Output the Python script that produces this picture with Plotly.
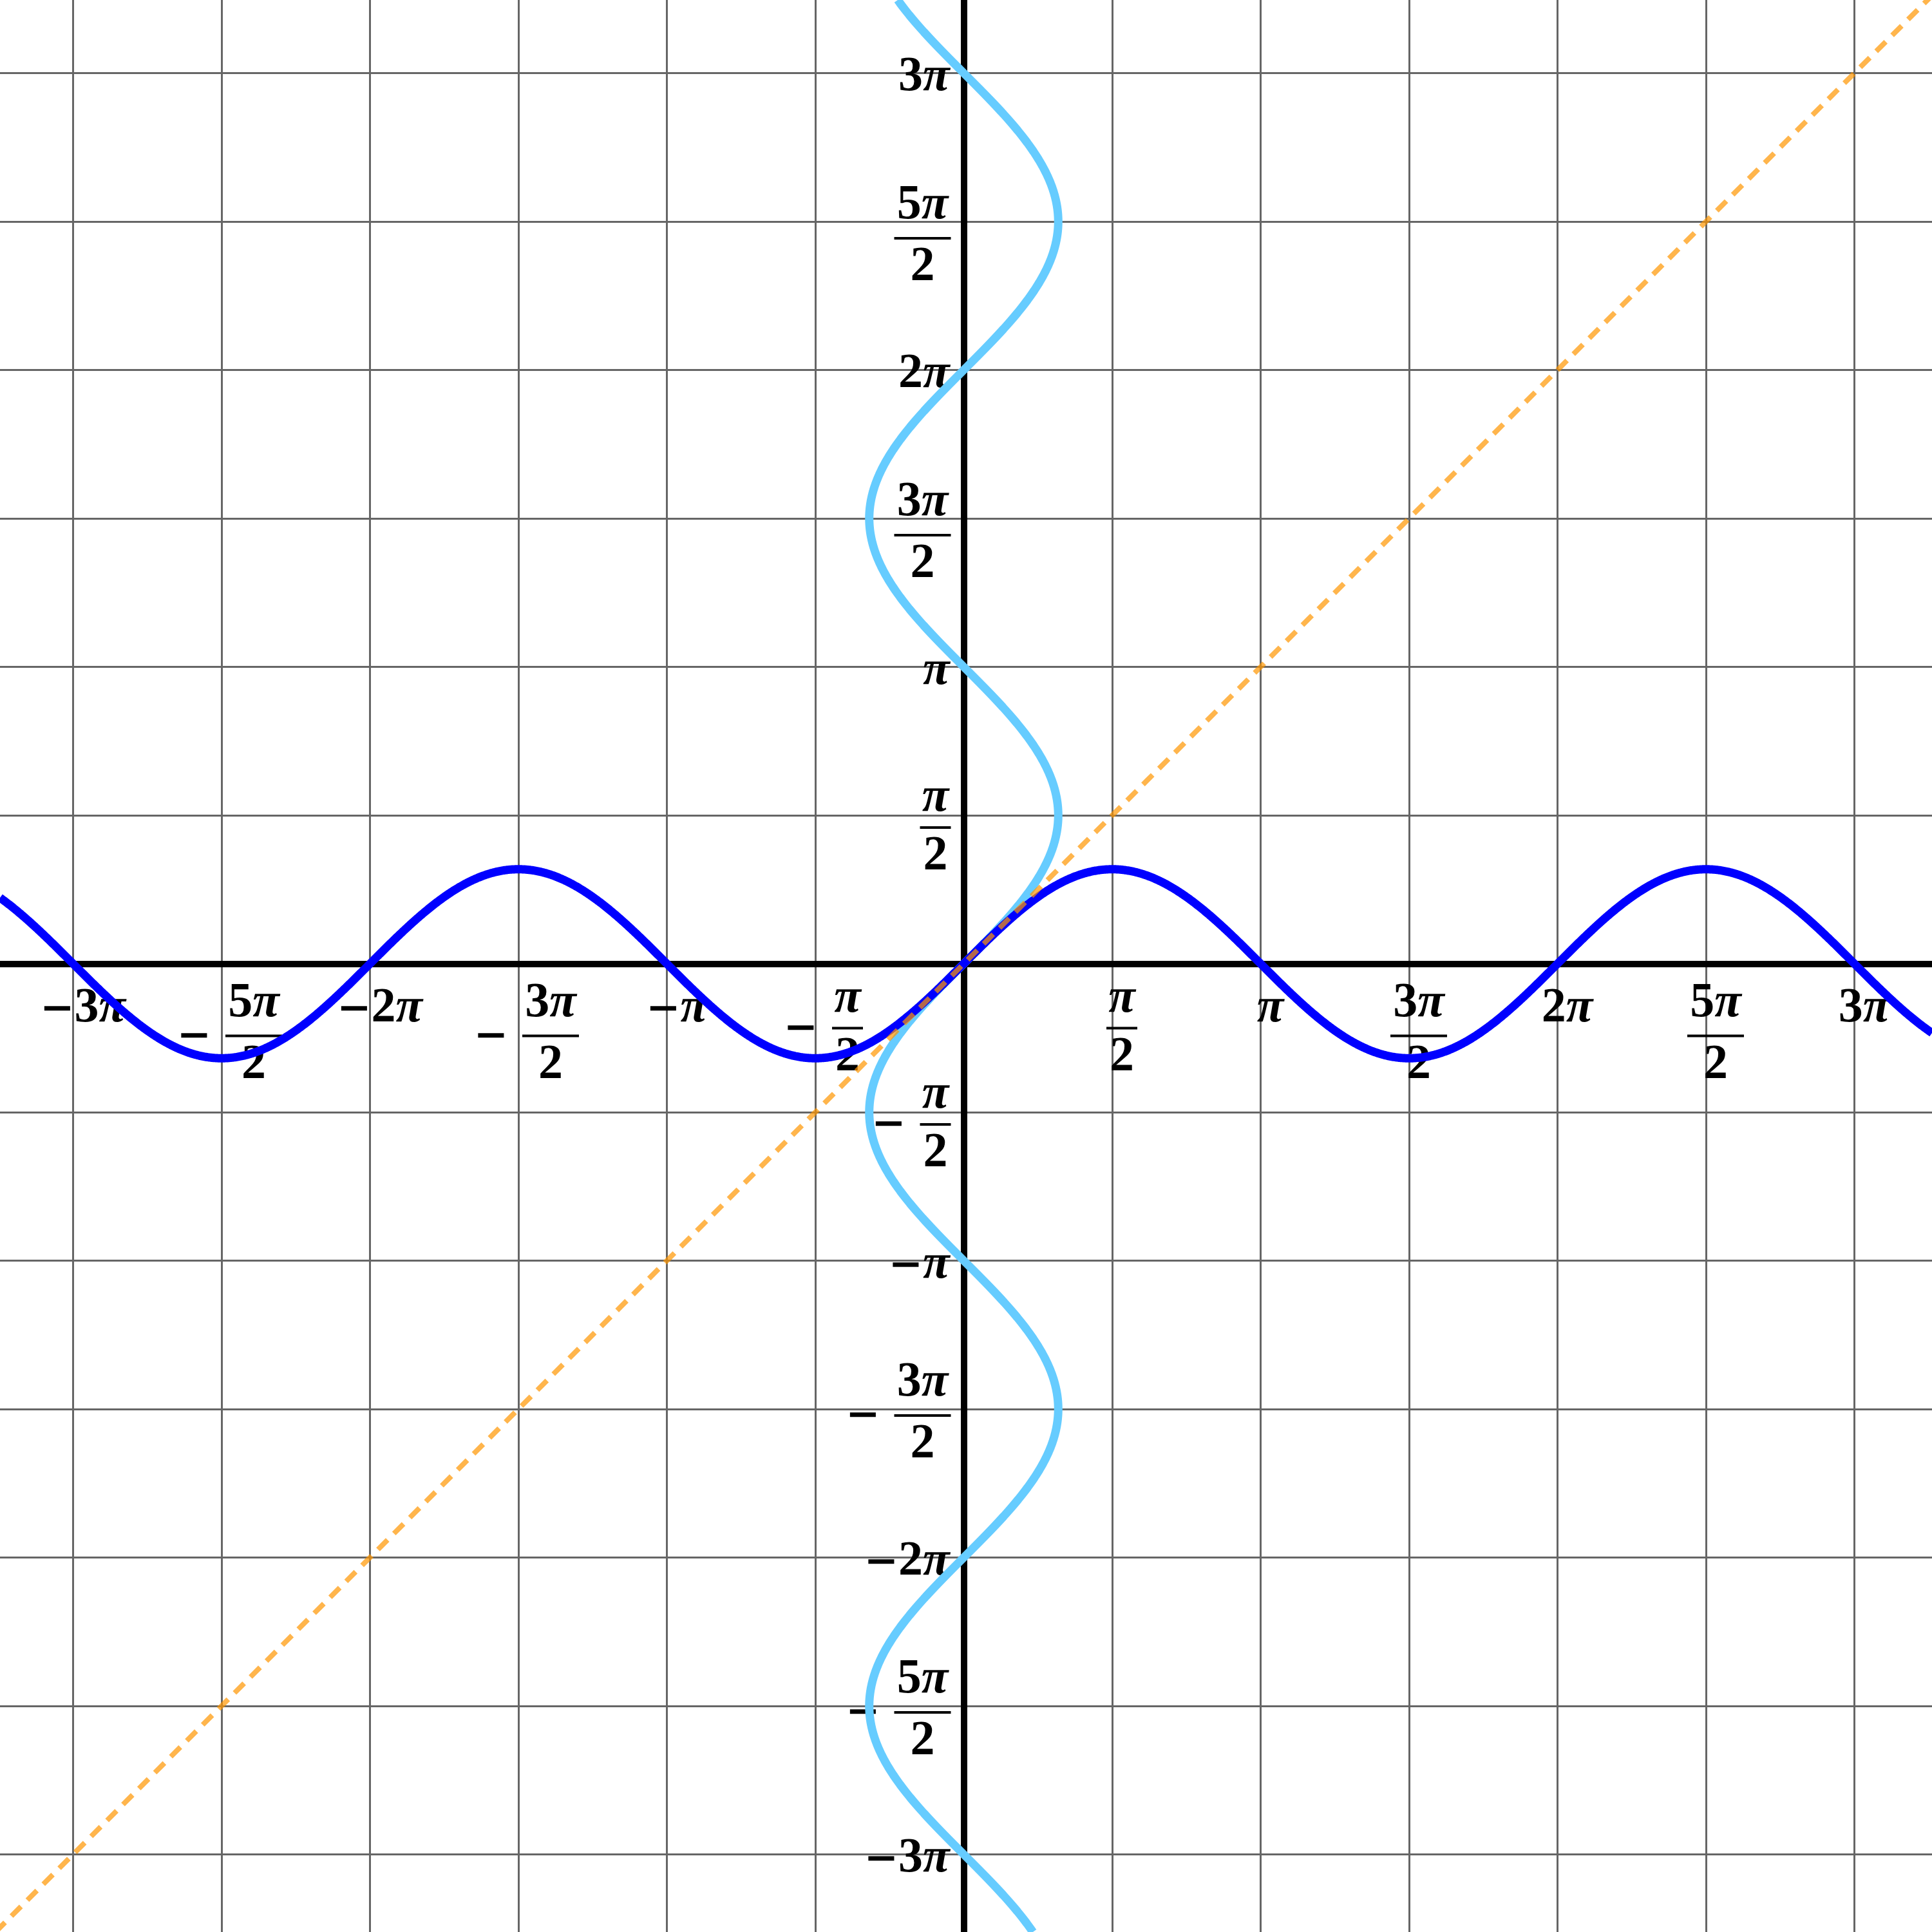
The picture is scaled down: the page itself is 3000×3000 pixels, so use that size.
import numpy as np
import plotly.graph_objects as go

PI = np.pi
W = H = 3000

# axis ranges (pi = 461 px, origin at pixel 1496.5 from left / top)
X_RANGE = [-1496.5 * PI / 461, 1503.5 * PI / 461]
Y_RANGE = [-1503.5 * PI / 461, 1496.5 * PI / 461]
KX = (X_RANGE[1] - X_RANGE[0]) / W   # data units per pixel
KY = (Y_RANGE[1] - Y_RANGE[0]) / H

# ticks / grid at multiples of pi/2
tick_halves = [-6, -5, -4, -3, -2, -1, 1, 2, 3, 4, 5, 6]
tick_labels = ["−3π", "−5π/2", "−2π", "−3π/2", "−π", "−π/2",
               "π/2", "π", "3π/2", "2π", "5π/2", "3π"]
tick_vals = [k * PI / 2 for k in tick_halves]
grid_vals = [k * PI / 2 for k in range(-6, 7)]

# curves: y = sin x, x = sin y, y = x
x_sample = np.linspace(X_RANGE[0], X_RANGE[1], 2401)
sin_of_x = np.sin(x_sample)
y_sample = np.linspace(Y_RANGE[0], Y_RANGE[1], 2401)
sin_of_y = np.sin(y_sample)
identity_x = [min(X_RANGE[0], Y_RANGE[0]), max(X_RANGE[1], Y_RANGE[1])]
identity_y = identity_x

FONT = dict(family="Liberation Serif", size=76, color="black", weight="bold")
MINUS = '<span style="font-family:DejaVu Serif;font-size:64px">−</span>'


def fmt(s):
    return s.replace("π", "<i>π</i>").replace("−", MINUS)


txt_x, txt_y, txt_s, txt_p = [], [], [], []
bar_x, bar_y = [], []


def add_text(x, y, s, pos):
    txt_x.append(x); txt_y.append(y); txt_s.append(fmt(s)); txt_p.append(pos)


def add_bar(x0, x1, y):
    bar_x.extend([x0, x1, None]); bar_y.extend([y, y, None])


for t, lab in zip(tick_vals, tick_labels):
    neg = lab.startswith("−")
    body = lab[1:] if neg else lab
    # ---------- x-axis labels (below horizontal axis) ----------
    cx = t + 15 * KX
    if "/" not in body:
        add_text(cx, -70 * KY, lab, "middle center")
    else:
        num, den = body.split("/")
        digit = num[0].isdigit()
        bw = 88 if digit else 48
        by = -(112 if digit else 100)
        group_w = bw + (70 if neg else 0)
        left = cx - group_w / 2 * KX + (70 * KX if neg else 0)
        bc = left + bw / 2 * KX
        add_bar(left, left + bw * KX, by * KY)
        add_text(bc, (by + (50 if digit else 45)) * KY, num, "middle center")
        add_text(bc, (by - 46) * KY, den, "middle center")
        if neg:
            add_text(left - 22 * KX, by * KY, "−", "middle left")
    # ---------- y-axis labels (left of vertical axis) ----------
    rx = -22 * KX
    if "/" not in body:
        add_text(rx, t - 7 * KY, lab, "middle left")
    else:
        num, den = body.split("/")
        digit = num[0].isdigit()
        bw = 88 if digit else 48
        b = (10 if neg else 26) if digit else 19
        by = t - b * KY
        rb = -20 * KX
        left = rb - bw * KX
        bc = left + bw / 2 * KX
        add_bar(left, rb, by)
        add_text(bc, by + (50 if digit else 45) * KY, num, "middle center")
        add_text(bc, by - 46 * KY, den, "middle center")
        if neg:
            add_text(left - 22 * KX, by, "−", "middle left")

fig = go.Figure()
fig.add_trace(go.Scatter(x=bar_x, y=bar_y, mode="lines",
                         line=dict(color="black", width=4), hoverinfo="skip"))
fig.add_trace(go.Scatter(x=txt_x, y=txt_y, mode="text", text=txt_s,
                         textposition=txt_p, textfont=FONT, hoverinfo="skip"))
fig.add_trace(go.Scatter(x=sin_of_y, y=y_sample, mode="lines",
                         line=dict(color="#66CCFF", width=13, simplify=False),
                         hoverinfo="skip"))
fig.add_trace(go.Scatter(x=x_sample, y=sin_of_x, mode="lines",
                         line=dict(color="#0000FF", width=13, simplify=False),
                         hoverinfo="skip"))
fig.add_trace(go.Scatter(x=identity_x, y=identity_y, mode="lines",
                         line=dict(color="rgba(255,150,0,0.7)", width=8,
                                   dash="21px,14px"), hoverinfo="skip"))

axis_common = dict(tickvals=grid_vals, showticklabels=False, ticks="",
                   showgrid=True, gridcolor="#666666", gridwidth=3,
                   zeroline=True, zerolinecolor="black", zerolinewidth=10,
                   showline=False, fixedrange=True)
fig.update_xaxes(range=X_RANGE, **axis_common)
fig.update_yaxes(range=Y_RANGE, **axis_common)
fig.update_layout(width=W, height=H, margin=dict(l=0, r=0, t=0, b=0),
                  plot_bgcolor="white", paper_bgcolor="white",
                  showlegend=False)
fig.write_html("out.html", config={"displayModeBar": False},
               post_script="document.body.style.margin='0';"
                           "document.body.style.overflow='hidden';")
